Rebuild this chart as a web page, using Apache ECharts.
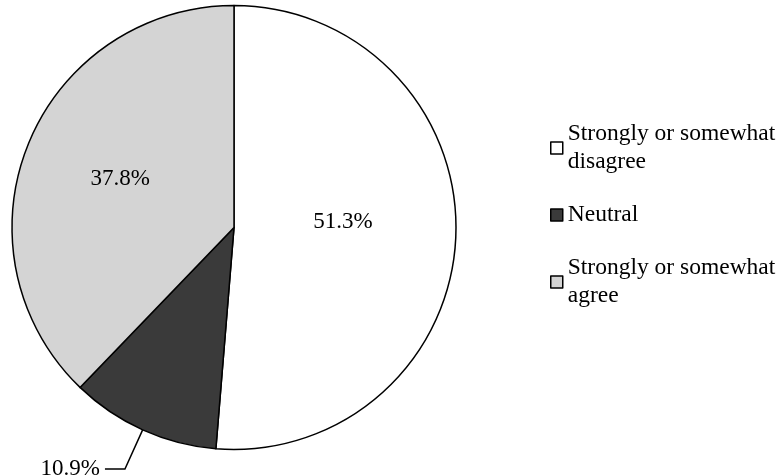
<!DOCTYPE html>
<html>
<head>
<meta charset="utf-8">
<script src="https://cdn.jsdelivr.net/npm/echarts@6/dist/echarts.min.js"></script>
<style>
  html, body { margin: 0; padding: 0; background: #fff; }
  #chart { width: 782px; height: 475px; }
</style>
</head>
<body>
<div id="chart"></div>
<script>
// Survey responses, share of respondents (%)
const categories = ['Strongly or somewhat\ndisagree', 'Neutral', 'Strongly or somewhat\nagree'];
const shares = [51.3, 10.9, 37.8];
const fills = ['#ffffff', '#3a3a3a', '#d4d4d4'];

const serif = '"Liberation Serif", "Times New Roman", "DejaVu Serif", serif';
const LINE = 28;

const chart = echarts.init(document.getElementById('chart'));

// Small label nudges so the in-slice values sit a little above the slice midline
const insideLabel = {
  0: { position: 'inside', offset: [-5, -10] },
  2: { position: 'inside', offset: [-8, -6] }
};

const data = categories.map((name, i) => {
  const outside = !(i in insideLabel);
  return {
    name: name,
    value: shares[i],
    itemStyle: { color: fills[i] },
    label: outside
      ? { position: 'outside', padding: [0, 0, 14, 0] }
      : insideLabel[i],
    labelLine: { show: outside }
  };
});

// Two-line legend entries: pad the text top so the swatch lines up with the first line
const legendData = categories.map(name => {
  const multiLine = name.indexOf('\n') >= 0;
  return multiLine
    ? { name: name, textStyle: { padding: [LINE, 0, 0, 0] } }
    : { name: name };
});

chart.setOption({
  animation: false,
  backgroundColor: '#ffffff',
  legend: {
    orient: 'vertical',
    left: 550,
    top: 106,
    padding: 0,
    itemWidth: 12,
    itemHeight: 12,
    itemGap: 11,
    icon: 'rect',
    selectedMode: false,
    itemStyle: { borderColor: '#000', borderWidth: 1.5 },
    textStyle: { fontFamily: serif, fontSize: 23.5, color: '#000', lineHeight: LINE },
    data: legendData
  },
  series: [{
    type: 'pie',
    center: [234, 227.5],
    radius: 222,
    startAngle: 90,
    clockwise: true,
    avoidLabelOverlap: false,
    itemStyle: { borderColor: '#000', borderWidth: 1.5 },
    label: {
      fontFamily: serif,
      fontSize: 23,
      color: '#000',
      formatter: p => p.value.toFixed(1) + '%'
    },
    labelLine: {
      length: 43,
      length2: 20,
      smooth: false,
      lineStyle: { color: '#000', width: 1.5 }
    },
    emphasis: { disabled: true },
    data: data
  }]
});
</script>
</body>
</html>
